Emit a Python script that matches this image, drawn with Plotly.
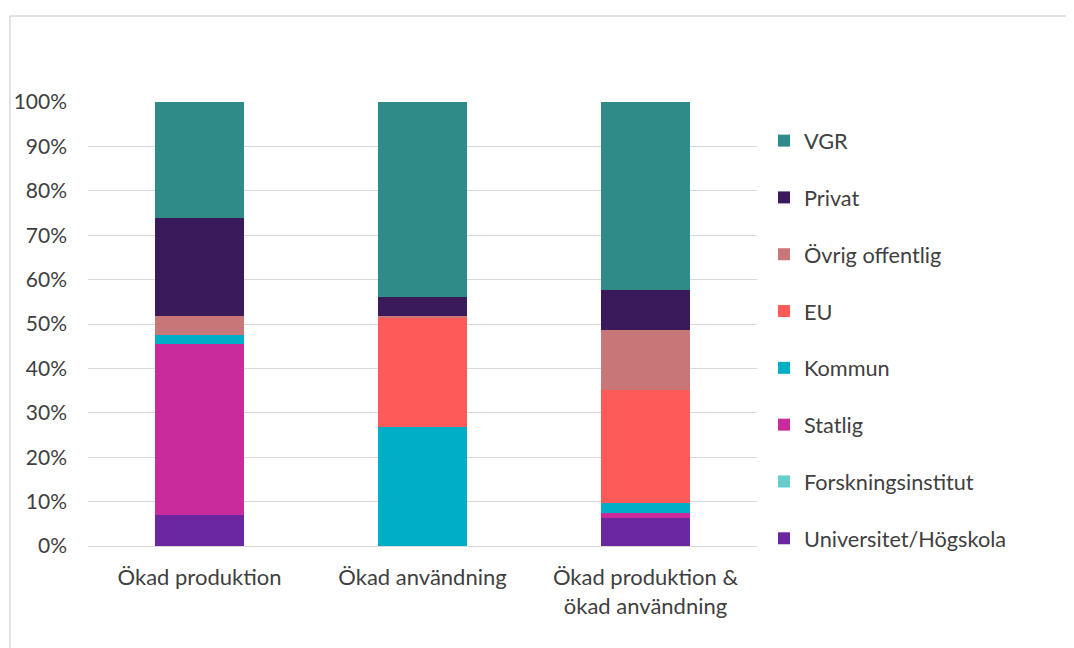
import plotly.graph_objects as go

categories = ["Ökad produktion", "Ökad användning", "Ökad produktion &<br>ökad användning"]
series_names = ["Universitet/Högskola", "Forskningsinstitut", "Statlig", "Kommun",
                "EU", "Övrig offentlig", "Privat", "VGR"]
universitet = [7.0, 0.0, 6.2]
forskningsinstitut = [0.0, 0.0, 0.0]
statlig = [38.4, 0.0, 1.3]
kommun = [2.2, 26.8, 2.1]
eu = [0.0, 24.5, 25.5]
ovrig_offentlig = [4.3, 0.5, 13.5]
privat = [22.0, 4.2, 9.1]
vgr = [26.1, 44.0, 42.3]
tick_vals = [0, 10, 20, 30, 40, 50, 60, 70, 80, 90, 100]
tick_text = ["0%", "10%", "20%", "30%", "40%", "50%", "60%", "70%", "80%", "90%", "100%"]

values = [universitet, forskningsinstitut, statlig, kommun, eu, ovrig_offentlig, privat, vgr]
colors = ["#6A27A0", "#66CCCC", "#C92B9C", "#00AEC7", "#FF5A5A", "#C77777", "#3B1A5C", "#2E8B87"]

fig = go.Figure()
n = len(series_names)
for i, (name, vals, col) in enumerate(zip(series_names, values, colors)):
    fig.add_trace(go.Bar(x=categories, y=vals, name=name, marker=dict(color=col, line=dict(width=0)),
                         legendgroup=name, legendrank=(n - i) * 10))

# page body has an 8px margin
W, H = 1066, 640
L, T = 80, 94
pw, ph = 669, 444
R = W - L - pw
B = H - T - ph

fig.update_layout(
    width=W, height=H,
    barmode="stack", bargap=0.6,
    margin=dict(l=L, r=R, t=T, b=B, autoexpand=False),
    paper_bgcolor="white", plot_bgcolor="white",
    font=dict(family="Lato, Open Sans, sans-serif", size=21, color="#404040"),
    legend=dict(x=(756 - L) / pw, xanchor="left", y=1 - (112 - T) / ph, yanchor="top",
                traceorder="grouped", tracegroupgap=25.6, font=dict(size=21.7),
                itemwidth=30, maxheight=600),
    yaxis=dict(range=[0, 100], tickvals=tick_vals, ticktext=tick_text,
               showgrid=True, gridcolor="#D9D9D9", gridwidth=1, zeroline=False,
               ticklabelstandoff=20, fixedrange=True, tickfont=dict(size=21)),
    xaxis=dict(showline=True, linecolor="#D9D9D9", linewidth=1, ticklabelstandoff=12,
               tickfont=dict(size=22)),
    showlegend=True,
)

x0 = (2 - L) / pw
y1 = 1 + (T - 8) / ph
fig.add_shape(type="line", xref="paper", yref="paper", x0=x0, x1=2.0, y0=y1, y1=y1,
              line=dict(color="#D9D9D9", width=1.5))
fig.add_shape(type="line", xref="paper", yref="paper", x0=x0, x1=x0, y0=y1, y1=-1.0,
              line=dict(color="#D9D9D9", width=1.5))

fig.write_html("out.html")
